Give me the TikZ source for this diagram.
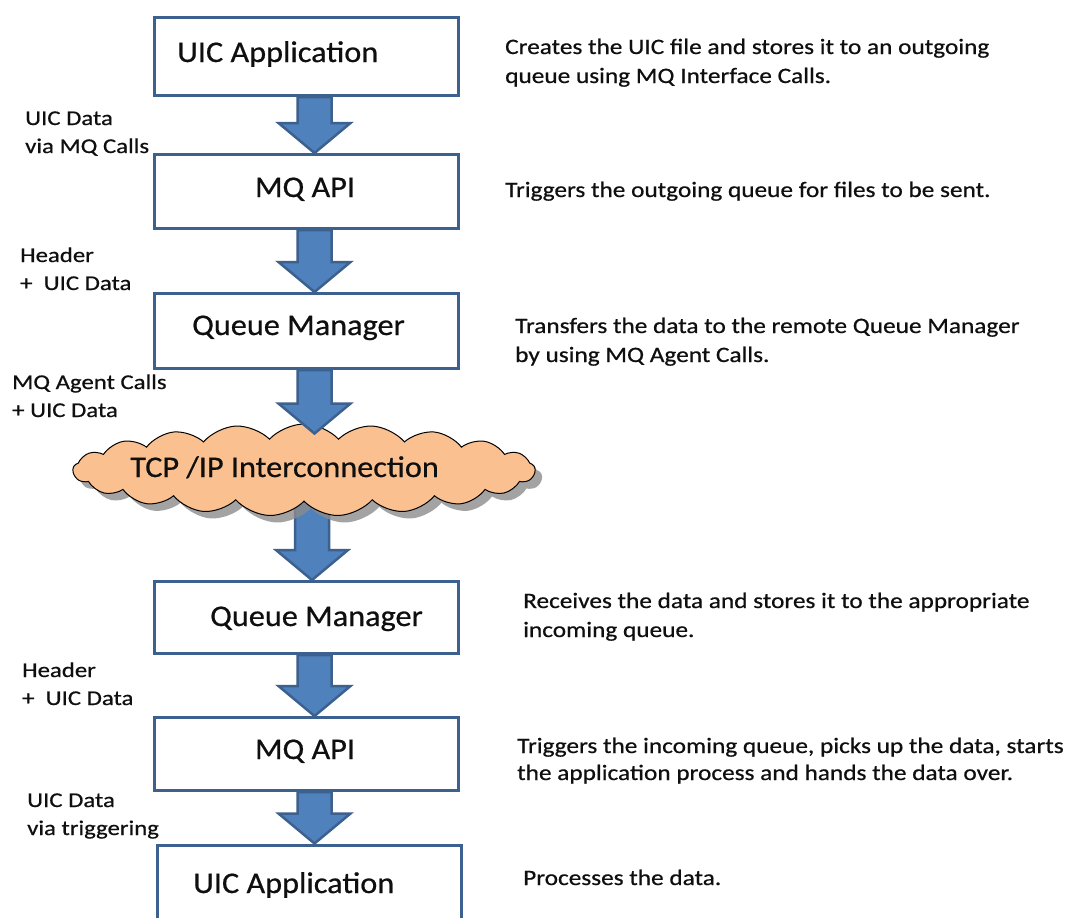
\documentclass[tikz,border=0pt]{standalone}
\usepackage{fontspec}
\setmainfont{Carlito}
\newfontfamily\boxfont{Carlito}[FakeStretch=1.075, FakeBold=0.6]
\newfontfamily\lblfont{Carlito}[FakeStretch=1.18, FakeBold=0.6]
\newfontfamily\descfont{Carlito}[FakeStretch=1.15, FakeBold=0.6]
\usetikzlibrary{shapes.symbols,shadows,calc}
\pgfdeclarelayer{bg}
\pgfsetlayers{bg,main}
\definecolor{boxblue}{RGB}{60,97,142}
\definecolor{arrowfill}{RGB}{79,129,189}
\definecolor{cloudfill}{RGB}{250,192,143}
\definecolor{txt}{RGB}{15,15,15}
\newcommand\blockarrow[2]{%
  \path[blkarrow] let \p1=#1, \p2=#2 in
    (\x1-9pt,\y1) -- (\x1+25pt,\y1) -- (\x1+25pt,\y2+30pt) -- (\x1+44pt,\y2+30pt)
    -- (\x1+8pt,\y2) -- (\x1-28pt,\y2+30pt) -- (\x1-9pt,\y2+30pt) -- cycle;}
\begin{document}
\begin{tikzpicture}[x=1pt,y=-1pt,
  box/.style={draw=boxblue, line width=3pt, fill=white, minimum width=304pt, inner sep=0pt},
  boxtext/.style={font=\boxfont\fontsize{30}{36}\selectfont, text=txt, anchor=base, inner sep=0pt},
  lbl/.style={font=\lblfont\fontsize{21}{28}\selectfont, text=txt, anchor=base west, align=left, inner sep=0pt},
  desc/.style={font=\descfont\fontsize{22}{29}\selectfont, text=txt, anchor=base west, align=left, inner sep=0pt},
  blkarrow/.style={fill=arrowfill, draw=boxblue, line width=2.5pt, line join=miter}]
\clip (0,0) rectangle (1066,918);
\useasboundingbox (0,0) rectangle (1066,918);
\begin{pgfonlayer}{bg}
\fill[white] (0,0) rectangle (1066,918);
\end{pgfonlayer}

% boxes
\node[box, minimum height=78pt] (b1) at (306.5,56.5) {};
\node[box, minimum height=74pt] (b2) at (306.5,191.5) {};
\node[box, minimum height=75pt] (b3) at (306.5,331) {};
\node[cloud, cloud puffs=21, cloud puff arc=95, cloud ignores aspect,
      minimum width=462pt, minimum height=92pt, fill=cloudfill, draw=black, line width=1pt,
      drop shadow={shadow xshift=7pt, shadow yshift=-7pt, fill=black!45, opacity=0.8}] (cl) at (304,470) {};
\node[box, minimum height=72pt] (b4) at (306.5,617.5) {};
\node[box, minimum height=73pt] (b5) at (306.5,754) {};
\node[box, minimum height=80pt] (b6) at (309.5,885) {};

% block arrows
\blockarrow{(b1.south)}{(b2.north)}
\blockarrow{(b2.south)}{(b3.north)}
\blockarrow{(b3.south)}{($(cl.north)+(0,10)$)}
\begin{pgfonlayer}{bg}
\blockarrow{(cl.center)}{(b4.north)}
\end{pgfonlayer}
\blockarrow{(b4.south)}{(b5.north)}
\blockarrow{(b5.south)}{(b6.north)}

% box texts
\node[boxtext, anchor=base west] (t1) at (177,62) {UIC Application};
\node[boxtext] (t2) at (305,197) {MQ API};
\node[boxtext, anchor=base west] (t3) at (192,335) {Queue Manager};
\node[boxtext, anchor=base west] (tc) at (130,477) {TCP /IP Interconnection};
\node[boxtext, anchor=base west] (t4) at (210,626) {Queue Manager};
\node[boxtext] (t5) at (305,759) {MQ API};
\node[boxtext, anchor=base west] (t6) at (193,893) {UIC Application};

% left labels (anchored at the baseline of the last line)
\node[lbl] (l1) at (25,153) {UIC Data\\via MQ Calls};
\node[lbl] (l2) at (20,290) {Header\\+\ \ UIC Data};
\node[lbl] (l3) at (12,417) {MQ Agent Calls\\+ UIC Data};
\node[lbl] (l4) at (22,705) {Header\\+\ \ UIC Data};
\node[lbl] (l5) at (27,835) {UIC Data\\via triggering};

% descriptions (anchored at the baseline of the last line)
\node[desc] (d1) at (505,83) {Creates the UIC file and stores it to an outgoing\\queue using MQ Interface Calls.};
\node[desc] (d2) at (505,197) {Triggers the outgoing queue for files to be sent.};
\node[desc] (d3) at (515,362) {Transfers the data to the remote Queue Manager\\by using MQ Agent Calls.};
\node[desc] (d4) at (523,637) {Receives the data and stores it to the appropriate\\incoming queue.};
\node[desc] (d5) at (517,780) {Triggers the incoming queue, picks up the data, starts\\[-2pt]the application process and hands the data over.};
\node[desc] (d6) at (523,885) {Processes the data.};
\end{tikzpicture}
\end{document}
